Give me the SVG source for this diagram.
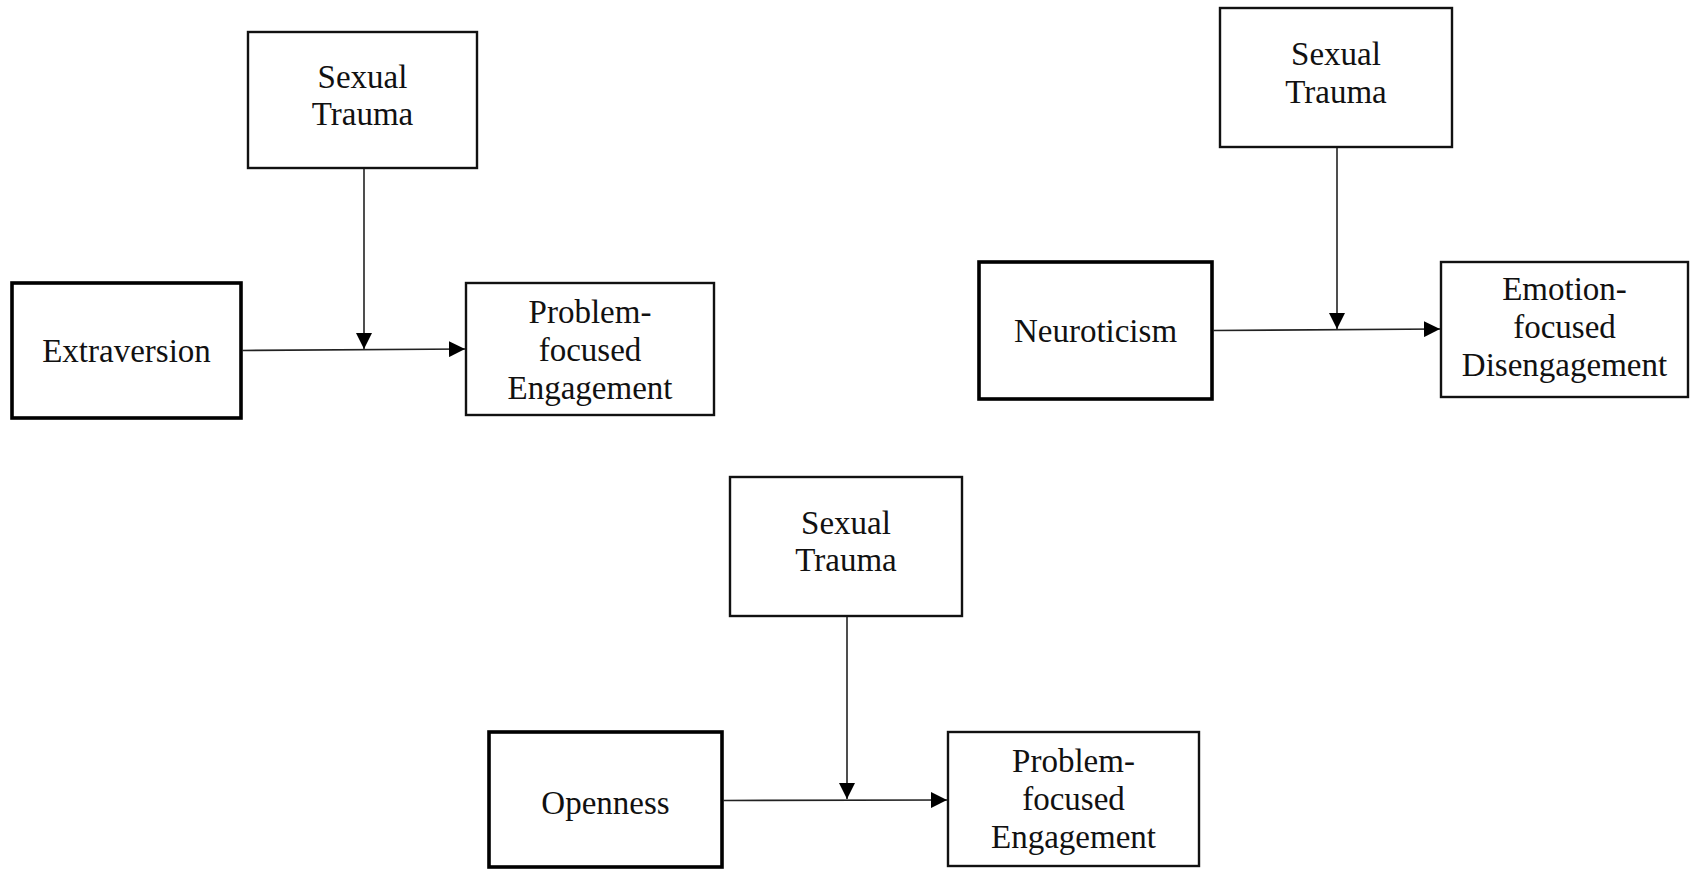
<svg xmlns="http://www.w3.org/2000/svg" width="1690" height="869" viewBox="0 0 1690 869">
  <style>
    .box { fill: #ffffff; stroke: #111111; stroke-width: 2.4; }
    .box-thick { fill: #ffffff; stroke: #000000; stroke-width: 3.6; }
    .label { font-family: "Liberation Serif", "Times New Roman", serif; font-size: 33px; fill: #111111; text-anchor: middle; }
    .link { fill: none; stroke: #222222; stroke-width: 1.6; }
  </style>
  <defs>
    <marker id="arrow" markerUnits="userSpaceOnUse" markerWidth="18" markerHeight="16" refX="16" refY="8" orient="auto">
      <path d="M0,0 L16,8 L0,16 Z" fill="#000000"/>
    </marker>
  </defs>
  <rect width="1690" height="869" fill="#ffffff"/>

  <!-- Model 1: extraversion -->
  <g id="st1">
    <rect class="box" x="248" y="32" width="229" height="136"/>
    <text class="label" x="362.5" y="88">Sexual</text>
    <text class="label" x="362.5" y="125">Trauma</text>
  </g>
  <g id="extraversion">
    <rect class="box-thick" x="12" y="283" width="229" height="135"/>
    <text class="label" x="126.5" y="362">Extraversion</text>
  </g>
  <g id="pfe1">
    <rect class="box" x="466" y="283" width="248" height="132"/>
    <text class="label" x="590" y="323">Problem-</text>
    <text class="label" x="590" y="361">focused</text>
    <text class="label" x="590" y="399">Engagement</text>
  </g>

  <!-- Model 2: neuroticism -->
  <g id="st2">
    <rect class="box" x="1220" y="8" width="232" height="139"/>
    <text class="label" x="1336" y="65">Sexual</text>
    <text class="label" x="1336" y="103">Trauma</text>
  </g>
  <g id="neuroticism">
    <rect class="box-thick" x="979" y="262" width="233" height="137"/>
    <text class="label" x="1095.5" y="342">Neuroticism</text>
  </g>
  <g id="efd">
    <rect class="box" x="1441" y="262" width="247" height="135"/>
    <text class="label" x="1564.5" y="300">Emotion-</text>
    <text class="label" x="1564.5" y="338">focused</text>
    <text class="label" x="1564.5" y="376">Disengagement</text>
  </g>

  <!-- Model 3: openness -->
  <g id="st3">
    <rect class="box" x="730" y="477" width="232" height="139"/>
    <text class="label" x="846" y="534">Sexual</text>
    <text class="label" x="846" y="571">Trauma</text>
  </g>
  <g id="openness">
    <rect class="box-thick" x="489" y="732" width="233" height="135"/>
    <text class="label" x="605.5" y="814">Openness</text>
  </g>
  <g id="pfe3">
    <rect class="box" x="948" y="732" width="251" height="134"/>
    <text class="label" x="1073.5" y="772">Problem-</text>
    <text class="label" x="1073.5" y="810">focused</text>
    <text class="label" x="1073.5" y="848">Engagement</text>
  </g>

  <g id="connectors">
    <path class="link" d="M364,169 L364,349" marker-end="url(#arrow)"/>
    <path class="link" d="M242,350.5 L465,349" marker-end="url(#arrow)"/>

    <path class="link" d="M1337,148 L1337,329" marker-end="url(#arrow)"/>
    <path class="link" d="M1213,330.5 L1440,329" marker-end="url(#arrow)"/>

    <path class="link" d="M847,617 L847,799" marker-end="url(#arrow)"/>
    <path class="link" d="M723,800.5 L947,800" marker-end="url(#arrow)"/>
  </g>
</svg>
